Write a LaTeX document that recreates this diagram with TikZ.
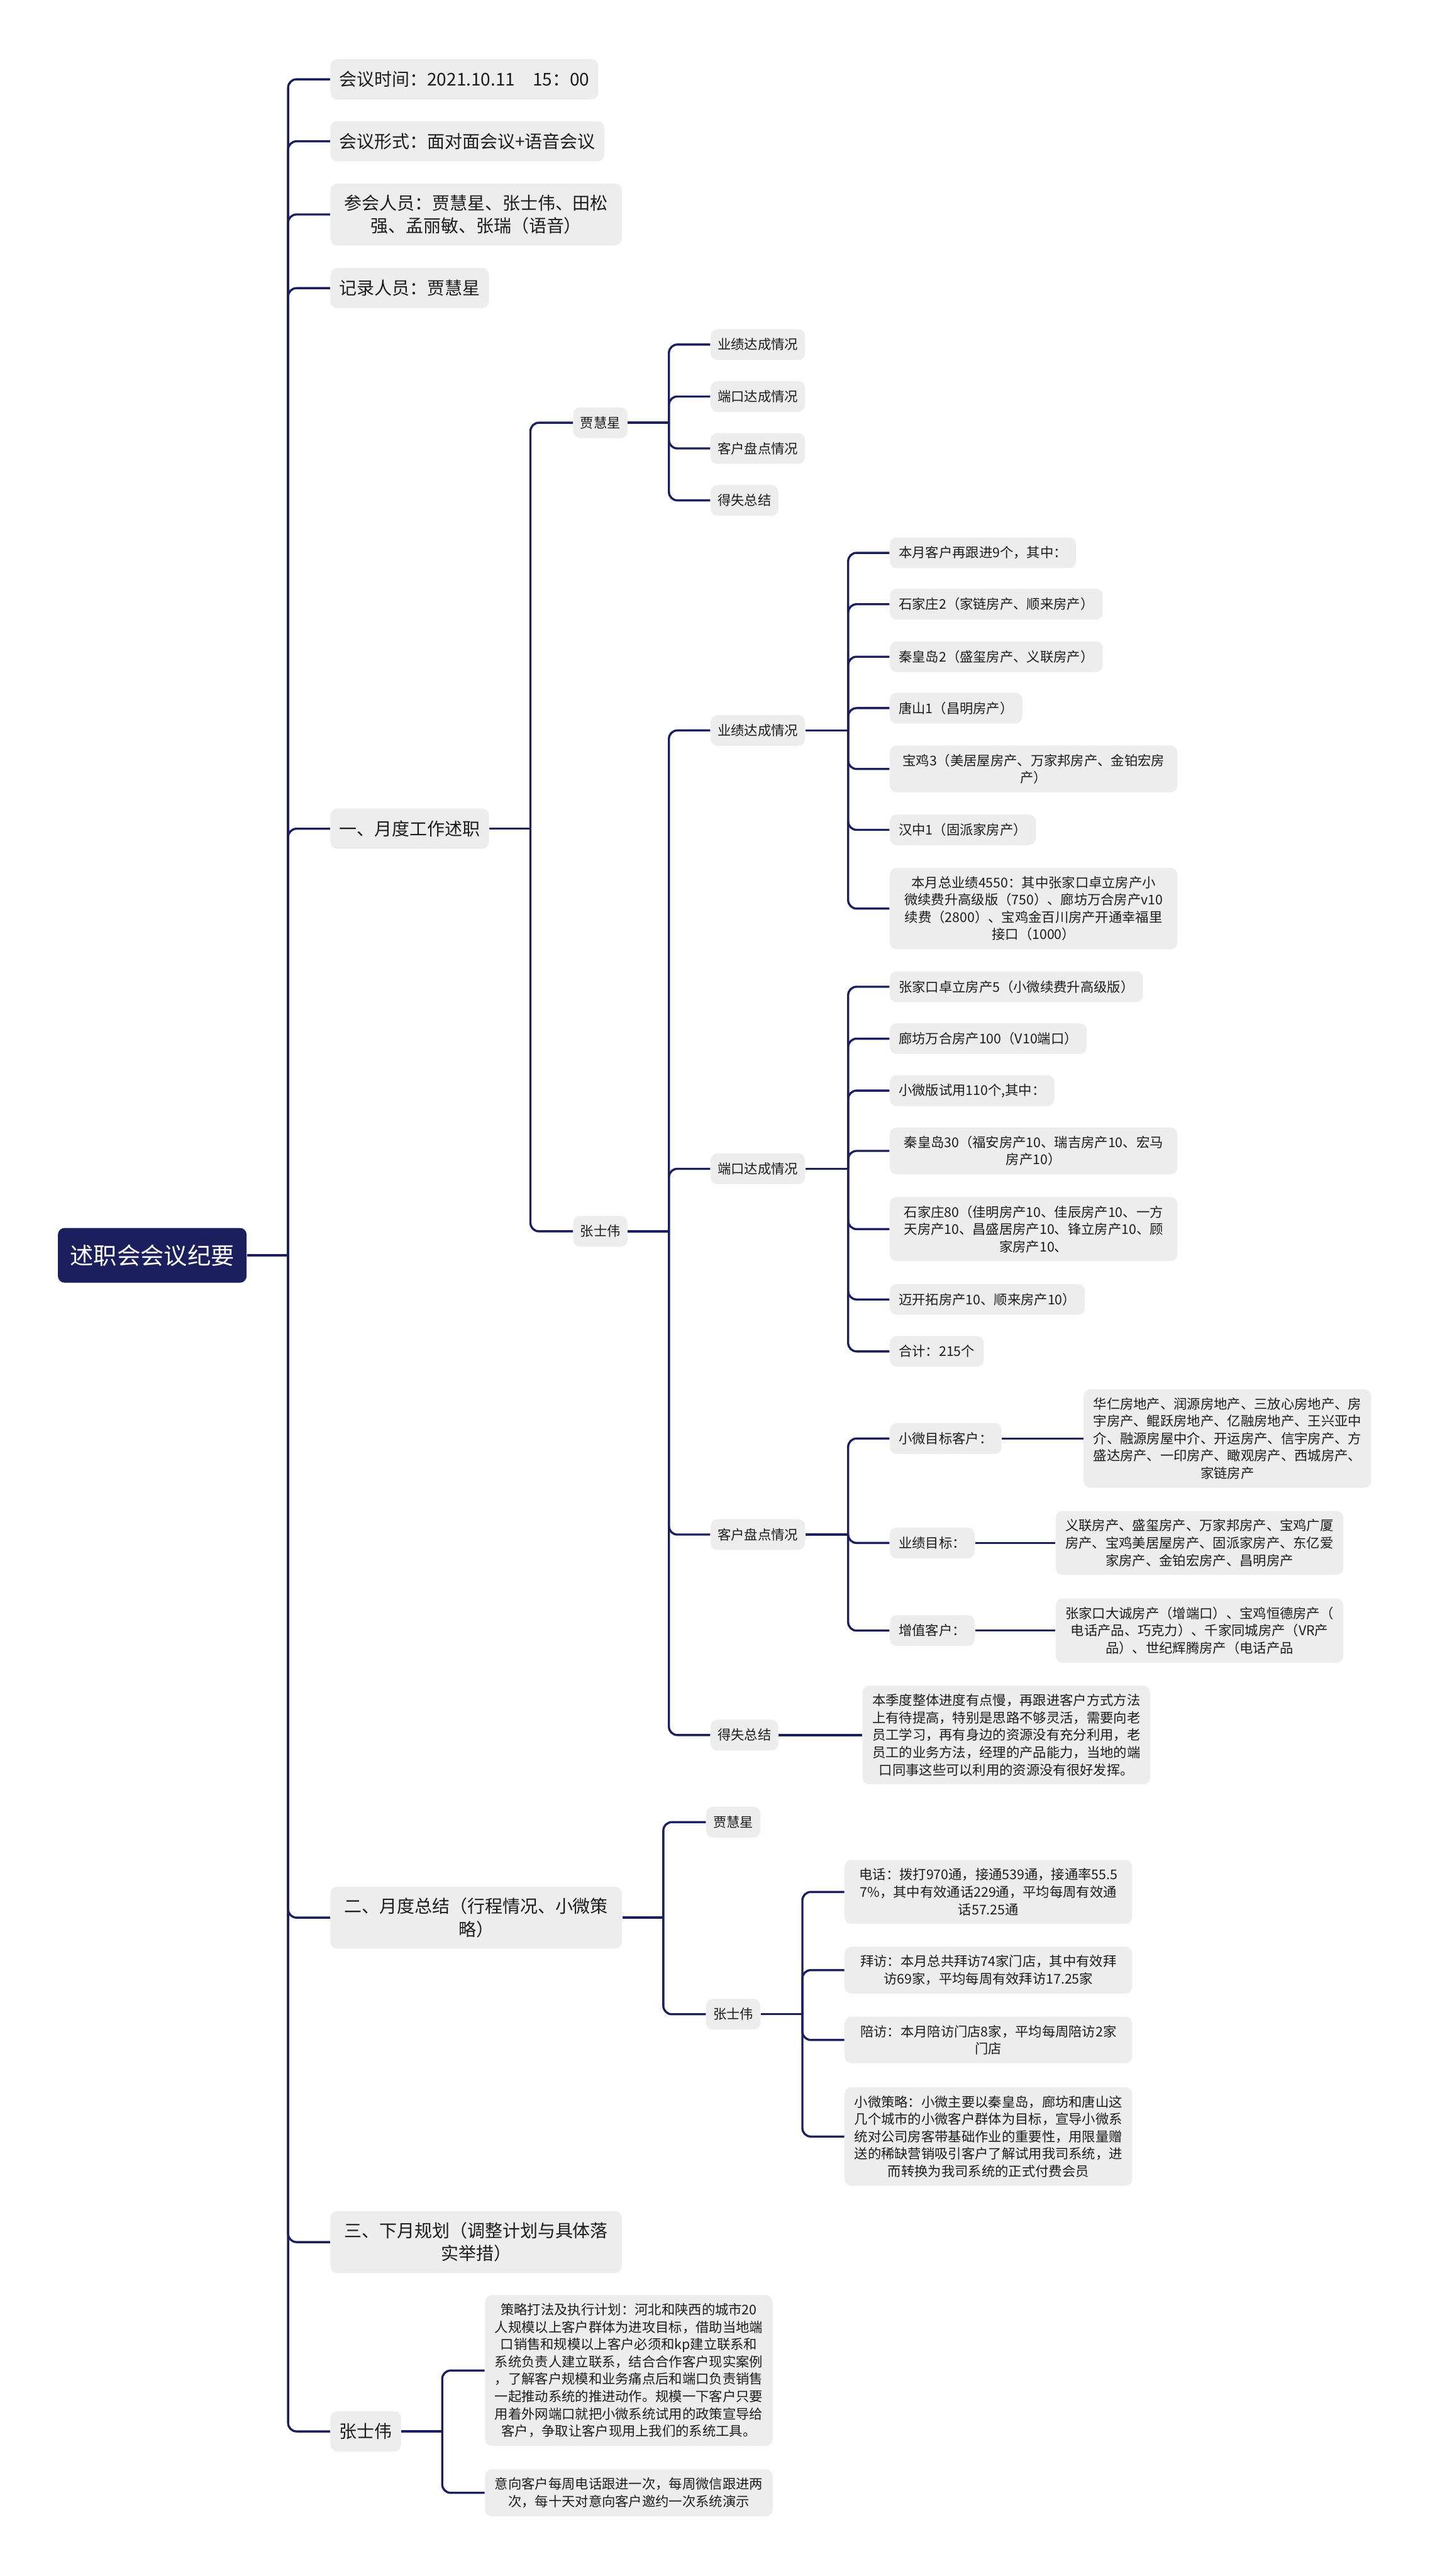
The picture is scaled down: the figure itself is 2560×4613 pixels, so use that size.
\documentclass[tikz,border=0pt]{standalone}
\usepackage{fontspec}
\setmainfont{Noto Sans CJK SC}
\definecolor{navy}{HTML}{1B1F5E}
\definecolor{boxgray}{HTML}{EDEDED}
\definecolor{txt}{HTML}{1C1C1C}
\tikzset{
  base/.style={anchor=west, rounded corners=1.2mm, fill=boxgray, text=txt, align=center},
  lone/.style={base, font=\fontsize{3.15mm}{4.1mm}\selectfont, inner xsep=1.6mm, inner ysep=2.0mm, minimum height=7.2mm},
  ltwo/.style={base, font=\fontsize{2.4mm}{3.1mm}\selectfont, inner xsep=1.25mm, inner ysep=1.5mm, minimum height=5.5mm},
  lfour/.style={ltwo, inner xsep=1.6mm},
  wide/.style={minimum width=51.5mm},
  wideone/.style={minimum width=52.2mm},
  rootbox/.style={anchor=west, rounded corners=1.2mm, fill=navy, text=white, font=\fontsize{4.2mm}{5mm}\selectfont, inner xsep=2.2mm, inner ysep=2.8mm, minimum height=9.8mm},
  conn/.style={draw=navy, line width=0.38mm, rounded corners=1.5mm}
}
\begin{document}
\begin{tikzpicture}[x=0.1mm,y=-0.1mm]
\fill[white] (0,0) rectangle (2560,4613);
\useasboundingbox (0,0) rectangle (2560,4613);

% root
\node[rootbox] (root) at (103,2248) {述职会会议纪要};

% level 1
\node[lone] (t1) at (591,142) {会议时间：2021.10.11　15：00};
\node[lone] (t2) at (591,253) {会议形式：面对面会议+语音会议};
\node[lone,wideone] (t3) at (591,384) {参会人员：贾慧星、张士伟、田松\\强、孟丽敏、张瑞（语音）};
\node[lone] (t4) at (591,516) {记录人员：贾慧星};
\node[lone] (t5) at (591,1484) {一、月度工作述职};
\node[lone,wideone] (t6) at (591,3434) {二、月度总结（行程情况、小微策\\略）};
\node[lone,wideone] (t7) at (591,4015) {三、下月规划（调整计划与具体落\\实举措）};
\node[lone] (t8) at (591,4354) {张士伟};

% level 2 under t5
\node[ltwo] (a1) at (1026,757) {贾慧星};
\node[ltwo] (a2) at (1026,2205) {张士伟};

% level 3 under a1
\node[ltwo] (b1) at (1272,617) {业绩达成情况};
\node[ltwo] (b2) at (1272,710) {端口达成情况};
\node[ltwo] (b3) at (1272,803) {客户盘点情况};
\node[ltwo] (b4) at (1272,896) {得失总结};

% level 3 under a2
\node[ltwo] (c1) at (1272,1308) {业绩达成情况};
\node[ltwo] (c2) at (1272,2093) {端口达成情况};
\node[ltwo] (c3) at (1272,2748) {客户盘点情况};
\node[ltwo] (c4) at (1272,3107) {得失总结};

% level 4 under c1
\node[lfour] (d1) at (1593,990) {本月客户再跟进9个，其中：};
\node[lfour] (d2) at (1593,1082) {石家庄2（家链房产、顺来房产）};
\node[lfour] (d3) at (1593,1176) {秦皇岛2（盛玺房产、义联房产）};
\node[lfour] (d4) at (1593,1268) {唐山1（昌明房产）};
\node[lfour,wide] (d5) at (1593,1377) {宝鸡3（美居屋房产、万家邦房产、金铂宏房\\产）};
\node[lfour] (d6) at (1593,1486) {汉中1（固派家房产）};
\node[lfour,wide] (d7) at (1593,1627) {本月总业绩4550：其中张家口卓立房产小\\微续费升高级版（750）、廊坊万合房产v10\\续费（2800）、宝鸡金百川房产开通幸福里\\接口（1000）};

% level 4 under c2
\node[lfour] (e1) at (1593,1767) {张家口卓立房产5（小微续费升高级版）};
\node[lfour] (e2) at (1593,1860) {廊坊万合房产100（V10端口）};
\node[lfour] (e3) at (1593,1953) {小微版试用110个,其中：};
\node[lfour,wide] (e4) at (1593,2061) {秦皇岛30（福安房产10、瑞吉房产10、宏马\\房产10）};
\node[lfour,wide] (e5) at (1593,2201) {石家庄80（佳明房产10、佳辰房产10、一方\\天房产10、昌盛居房产10、锋立房产10、顾\\家房产10、};
\node[lfour] (e6) at (1593,2327) {迈开拓房产10、顺来房产10）};
\node[lfour] (e7) at (1593,2420) {合计：215个};

% level 4 under c3
\node[lfour] (f1) at (1593,2576) {小微目标客户：};
\node[lfour] (f2) at (1593,2763) {业绩目标：};
\node[lfour] (f3) at (1593,2920) {增值客户：};
\node[lfour,wide] (g1) at (1940,2576) {华仁房地产、润源房地产、三放心房地产、房\\宇房产、鲲跃房地产、亿融房地产、王兴亚中\\介、融源房屋中介、开运房产、信宇房产、方\\盛达房产、一印房产、瞰观房产、西城房产、\\家链房产};
\node[lfour,wide] (g2) at (1890,2763) {义联房产、盛玺房产、万家邦房产、宝鸡广厦\\房产、宝鸡美居屋房产、固派家房产、东亿爱\\家房产、金铂宏房产、昌明房产};
\node[lfour,wide] (g3) at (1890,2920) {张家口大诚房产（增端口）、宝鸡恒德房产（\\电话产品、巧克力）、千家同城房产（VR产\\品）、世纪辉腾房产（电话产品};

% under c4
\node[lfour,wide] (h1) at (1544,3107) {本季度整体进度有点慢，再跟进客户方式方法\\上有待提高，特别是思路不够灵活，需要向老\\员工学习，再有身边的资源没有充分利用，老\\员工的业务方法，经理的产品能力，当地的端\\口同事这些可以利用的资源没有很好发挥。};

% under t6
\node[ltwo] (k1) at (1264,3263) {贾慧星};
\node[ltwo] (k2) at (1264,3607) {张士伟};
\node[lfour,wide] (m1) at (1512,3388) {电话：拨打970通，接通539通，接通率55.5\\7\%，其中有效通话229通，平均每周有效通\\话57.25通};
\node[lfour,wide] (m2) at (1512,3528) {拜访：本月总共拜访74家门店，其中有效拜\\访69家，平均每周有效拜访17.25家};
\node[lfour,wide] (m3) at (1512,3653) {陪访：本月陪访门店8家，平均每周陪访2家\\门店};
\node[lfour,wide] (m4) at (1512,3826) {小微策略：小微主要以秦皇岛，廊坊和唐山这\\几个城市的小微客户群体为目标，宣导小微系\\统对公司房客带基础作业的重要性，用限量赠\\送的稀缺营销吸引客户了解试用我司系统，进\\而转换为我司系统的正式付费会员};

% under t8
\node[lfour,wide] (n1) at (868,4245) {策略打法及执行计划：河北和陕西的城市20\\人规模以上客户群体为进攻目标，借助当地端\\口销售和规模以上客户必须和kp建立联系和\\系统负责人建立联系，结合合作客户现实案例\\，了解客户规模和业务痛点后和端口负责销售\\一起推动系统的推进动作。规模一下客户只要\\用着外网端口就把小微系统试用的政策宣导给\\客户，争取让客户现用上我们的系统工具。};
\node[lfour,wide] (n2) at (868,4464) {意向客户每周电话跟进一次，每周微信跟进两\\次，每十天对意向客户邀约一次系统演示};

% junctions
\coordinate (J0) at (516,2248);
\coordinate (J5) at (950,1484);
\coordinate (Ja1) at (1198,757);
\coordinate (Ja2) at (1198,2205);
\coordinate (Jc1) at (1519,1308);
\coordinate (Jc2) at (1519,2093);
\coordinate (Jc3) at (1519,2748);
\coordinate (J6) at (1188,3434);
\coordinate (Jk2) at (1437,3607);
\coordinate (J8) at (792,4354);

% connectors
\draw[conn] (root.east) -- (J0);
\foreach \c in {t1,t2,t3,t4,t5,t6,t7,t8} \draw[conn] (J0) |- (\c.west);
\draw[conn] (t5.east) -- (J5);
\foreach \c in {a1,a2} \draw[conn] (J5) |- (\c.west);
\draw[conn] (a1.east) -- (Ja1);
\foreach \c in {b1,b2,b3,b4} \draw[conn] (Ja1) |- (\c.west);
\draw[conn] (a2.east) -- (Ja2);
\foreach \c in {c1,c2,c3,c4} \draw[conn] (Ja2) |- (\c.west);
\draw[conn] (c1.east) -- (Jc1);
\foreach \c in {d1,d2,d3,d4,d5,d6,d7} \draw[conn] (Jc1) |- (\c.west);
\draw[conn] (c2.east) -- (Jc2);
\foreach \c in {e1,e2,e3,e4,e5,e6,e7} \draw[conn] (Jc2) |- (\c.west);
\draw[conn] (c3.east) -- (Jc3);
\foreach \c in {f1,f2,f3} \draw[conn] (Jc3) |- (\c.west);
\draw[conn] (f1.east) -- (g1.west);
\draw[conn] (f2.east) -- (g2.west);
\draw[conn] (f3.east) -- (g3.west);
\draw[conn] (c4.east) -- (h1.west);
\draw[conn] (t6.east) -- (J6);
\foreach \c in {k1,k2} \draw[conn] (J6) |- (\c.west);
\draw[conn] (k2.east) -- (Jk2);
\foreach \c in {m1,m2,m3,m4} \draw[conn] (Jk2) |- (\c.west);
\draw[conn] (t8.east) -- (J8);
\foreach \c in {n1,n2} \draw[conn] (J8) |- (\c.west);
\end{tikzpicture}
\end{document}
